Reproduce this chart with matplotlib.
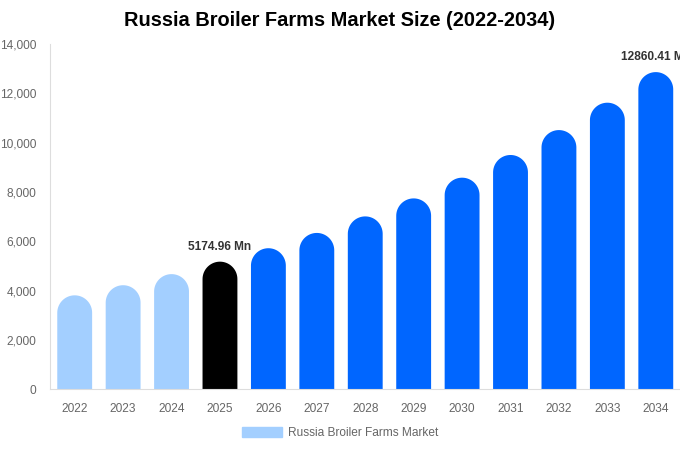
import matplotlib.pyplot as plt
import numpy as np
from matplotlib.patches import Patch, PathPatch
from matplotlib.path import Path

years = ['2022', '2023', '2024', '2025', '2026', '2027', '2028',
         '2029', '2030', '2031', '2032', '2033', '2034']
values = [3810, 4220, 4670, 5174.96, 5720, 6340, 7010,
          7740, 8580, 9500, 10510, 11620, 12860.41]
kinds = ['hist', 'hist', 'hist', 'base', 'fc', 'fc', 'fc',
         'fc', 'fc', 'fc', 'fc', 'fc', 'fc']
yticks = [0, 2000, 4000, 6000, 8000, 10000, 12000, 14000]
labels_at = {3: '5174.96 Mn', 12: '12860.41 Mn'}

colors = {'hist': '#a3cfff', 'base': '#000000', 'fc': '#0066ff'}

plt.rcParams['font.family'] = ['Liberation Sans', 'DejaVu Sans']

fig = plt.figure(figsize=(6.8, 4.5), dpi=100)
ax = fig.add_axes([50/680, (450-389.3)/450, 630/680, 345.3/450])
ax.set_xlim(-0.51, 12.5)
ax.set_ylim(0, 14000)

bw = 0.72
x = np.arange(len(years))
# cap radius in y data units so the top looks round on screen
px_x = ax.transData.transform((1, 0))[0] - ax.transData.transform((0, 0))[0]
px_y = ax.transData.transform((0, 1000))[1] - ax.transData.transform((0, 0))[1]
ry = (bw * px_x / 2) / px_y * 1000

th = np.linspace(np.pi, 0, 40)
for i in range(len(years)):
    c = colors[kinds[i]]
    v = values[i]
    xc = x[i]
    xs = [xc - bw/2] + list(xc + bw/2*np.cos(th)) + [xc + bw/2, xc - bw/2]
    ys = [0] + list(v - ry + ry*np.sin(th)) + [0, 0]
    codes = [Path.MOVETO] + [Path.LINETO]*(len(xs) - 2) + [Path.CLOSEPOLY]
    ax.add_patch(PathPatch(Path(np.column_stack([xs, ys]), codes),
                           facecolor=c, edgecolor='none'))

for i, t in labels_at.items():
    ax.text(x[i], values[i] + 9/px_y*1000, t, ha='center', va='bottom',
            fontsize=8.6, fontweight='bold', color='#333333', clip_on=False)

ax.set_xticks(x)
ax.set_xticklabels(years)
ax.set_yticks(yticks)
ax.set_yticklabels(['{:,}'.format(t) for t in yticks])
ax.tick_params(axis='both', length=0, labelsize=8.6, labelcolor='#666666')
ax.tick_params(axis='x', pad=10)
ax.tick_params(axis='y', pad=10)

for s in ['top', 'right']:
    ax.spines[s].set_visible(False)
ax.spines['left'].set_color('#dddddd')
ax.spines['bottom'].set_color('#dddddd')

fig.text(0.5, 1 - 21/450, 'Russia Broiler Farms Market Size (2022-2034)',
         ha='center', va='center', fontsize=14.4, fontweight='bold', color='#000000')

leg = fig.legend(handles=[Patch(color=colors['hist'], label='Russia Broiler Farms Market')],
                 loc='center', bbox_to_anchor=(0.5, 1 - 433/450), frameon=False,
                 fontsize=8.6, handlelength=3.3, handleheight=1.0, handletextpad=0.5)
for t in leg.get_texts():
    t.set_color('#666666')

fig.savefig('out.png', dpi=100)
